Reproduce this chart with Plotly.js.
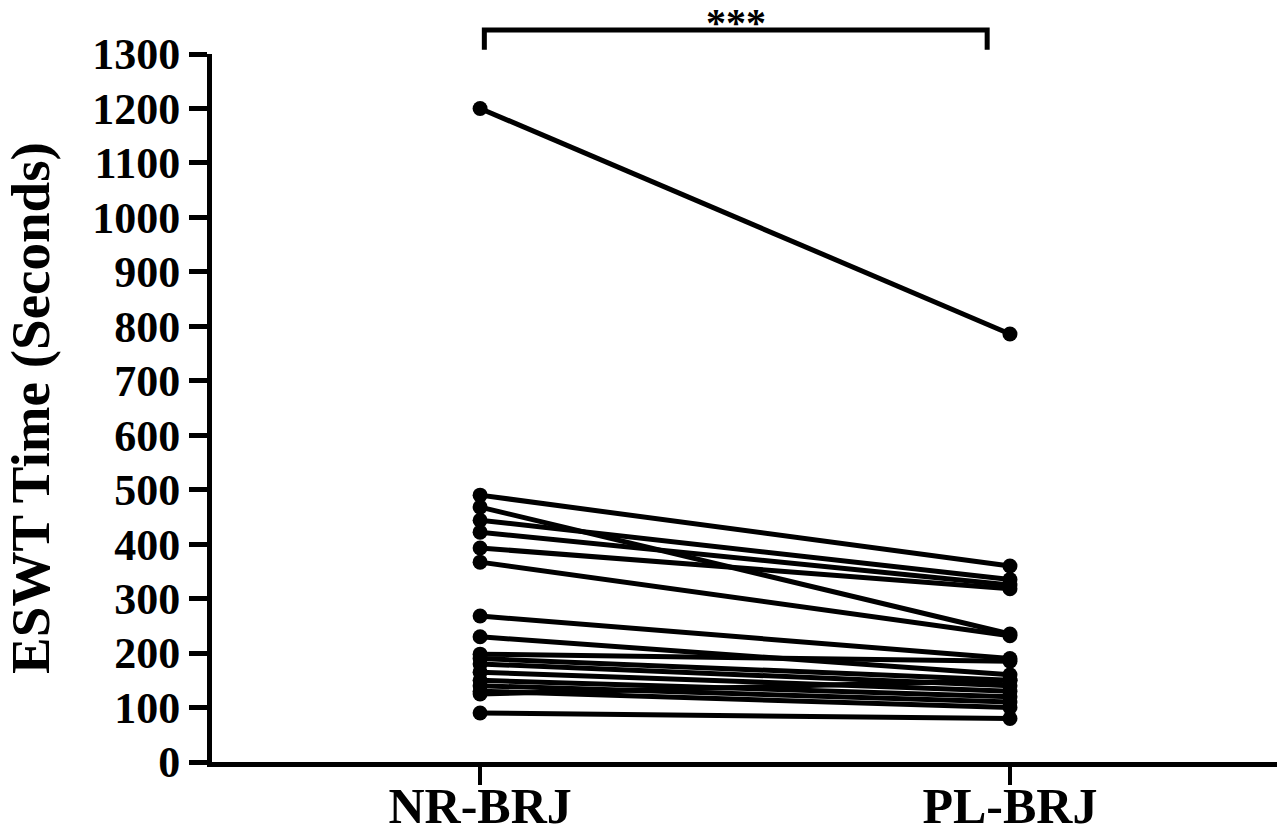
<!DOCTYPE html>
<html>
<head>
<meta charset="utf-8">
<script src="https://cdn.plot.ly/plotly-3.0.1.min.js"></script>
<style>html,body{margin:0;padding:0;background:#fff;}#chart{width:1280px;height:834px;}</style>
</head>
<body>
<div id="chart"></div>
<script>
const groups = ["NR-BRJ", "PL-BRJ"];
const nrBRJ = [1200, 490, 468, 444, 422, 393, 367, 268, 230, 198, 190, 180, 165, 150, 140, 130, 125, 90];
const plBRJ = [786, 360, 235, 335, 325, 318, 232, 190, 160, 185, 150, 140, 130, 120, 110, 100, 150, 80];
const yTicks = [0,100,200,300,400,500,600,700,800,900,1000,1100,1200,1300];
const sigLabel = "***";

const font = "'Liberation Serif', 'Times New Roman', serif";
const traces = nrBRJ.map((v, i) => ({
  x: [0, 1],
  y: [v, plBRJ[i]],
  type: 'scatter',
  mode: 'lines+markers',
  line: {color: '#000', width: 5},
  marker: {color: '#000', size: 15},
  cliponaxis: false,
  showlegend: false,
  hoverinfo: 'skip'
}));

const layout = {
  width: 1280, height: 834,
  margin: {l: 212, r: 3, t: 54, b: 72},
  paper_bgcolor: '#fff', plot_bgcolor: '#fff',
  showlegend: false,
  xaxis: {
    range: [-0.506, 1.504],
    tickvals: [0, 1], ticktext: groups,
    showgrid: false, zeroline: false,
    showline: true, linecolor: '#000', linewidth: 5,
    ticks: 'outside', ticklen: 18, tickwidth: 4, tickcolor: '#000',
    ticklabelstandoff: -22,
    tickfont: {family: font, size: 50, color: '#000', weight: 'bold'}
  },
  yaxis: {
    range: [0, 1300],
    tickvals: yTicks,
    showgrid: false, zeroline: false,
    showline: true, linecolor: '#000', linewidth: 5,
    ticks: 'outside', ticklen: 18, tickwidth: 5, tickcolor: '#000',
    tickfont: {family: font, size: 44, color: '#000', weight: 'bold'},
    title: {text: 'ESWT Time (Seconds)', font: {family: font, size: 55, color: '#000', weight: 'bold'}, standoff: 36}
  },
  shapes: [
    {type: 'path', xref: 'x', yref: 'paper',
     path: 'M 0.008,1.006 L 0.008,1.034 L 0.957,1.034 L 0.957,1.006',
     line: {color: '#000', width: 5}}
  ],
  annotations: [
    {x: 0.483, y: 1.045, xref: 'x', yref: 'paper', text: sigLabel, showarrow: false,
     yanchor: 'middle', borderpad: 0, font: {family: font, size: 40, color: '#000', weight: 'bold'}}
  ]
};

Plotly.newPlot('chart', traces, layout, {staticPlot: true, displayModeBar: false});
</script>
</body>
</html>
